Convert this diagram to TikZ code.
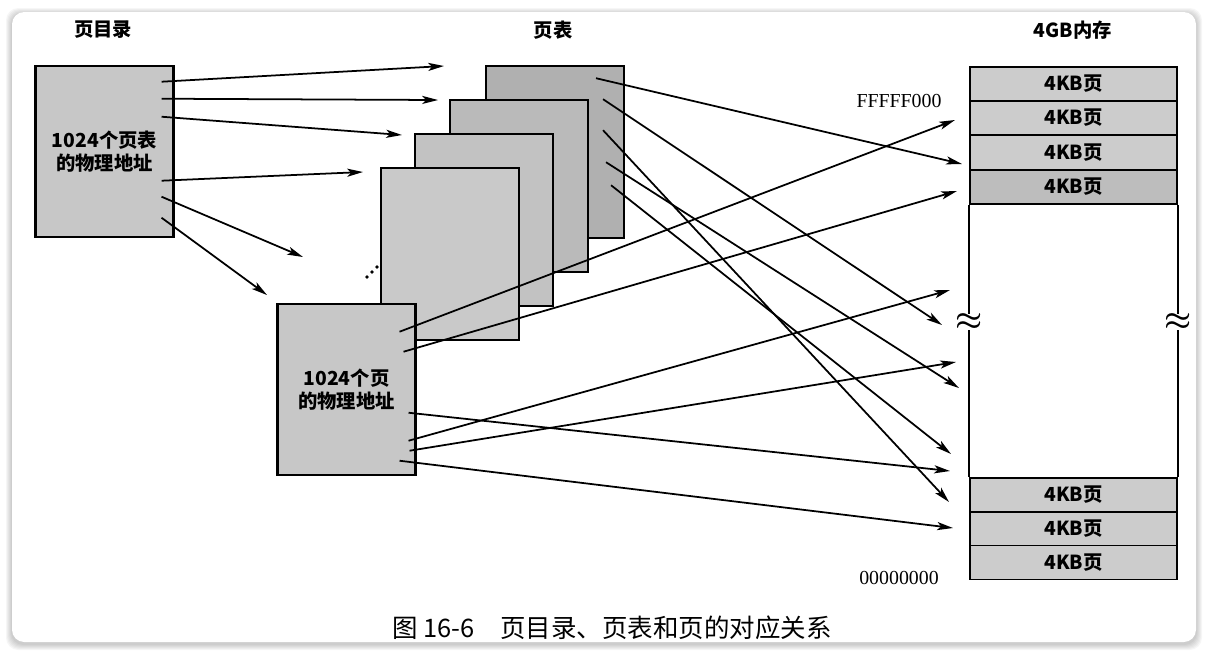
\documentclass[tikz,border=0pt]{standalone}
\usepackage{fontspec}
\setmainfont{Liberation Serif}
\newfontfamily\cjk{Noto Sans CJK SC}
\usetikzlibrary{calc, arrows.meta}
\definecolor{dirgray}{gray}{0.78}
\definecolor{tblgray1}{gray}{0.79}
\definecolor{tblgray2}{gray}{0.76}
\definecolor{tblgray3}{gray}{0.73}
\definecolor{tblgray4}{gray}{0.69}
\definecolor{pagegray}{gray}{0.80}
\definecolor{pagedark}{gray}{0.74}
\tikzstyle{tbl}=[draw, line width=1.2pt, minimum width=2.76cm, minimum height=3.43cm, inner sep=0pt, align=center, font=\cjk\bfseries\fontsize{11}{13}\selectfont]
\tikzstyle{pg}=[draw, line width=1pt, minimum width=4.14cm, minimum height=0.68cm, inner sep=0pt, font=\cjk\bfseries\fontsize{11}{13}\selectfont]
\tikzstyle{lbl}=[font=\cjk\bfseries\fontsize{11}{13}\selectfont]
\tikzstyle{addr}=[font=\fontsize{11.3}{13}\selectfont]
\tikzstyle{brk}=[fill=white, inner sep=0pt, font=\fontsize{18}{18}\selectfont\boldmath]

\begin{document}
\begin{tikzpicture}[x=0.02cm,y=-0.02cm,>={Stealth[length=9pt,width=4.6pt,inset=2.2pt]},line width=1pt]
  \useasboundingbox (0,0) rectangle (1208,654);
  % window frame
  \foreach \i in {1,...,6}
    \fill[black, opacity=0.035, rounded corners=7pt] ($(12,14)+(-\i,-\i)$) rectangle ($(1196,644)+(\i,\i)$);
  \fill[white, rounded corners=7pt] (12,12) rectangle (1196,642);

  % titles
  \node[lbl] (tdir) at (103,30) {页目录};
  \node[lbl] (ttbl) at (553,30) {页表};
  \node[lbl] (tmem) at (1073,30) {4GB内存};

  % page directory
  \node[tbl, fill=dirgray] (pdir) at (104.5,151.5) {1024个页表\\的物理地址};

  % page tables, back to front
  \node[tbl, fill=tblgray4] (pt4) at (555,152) {};
  \node[tbl, fill=tblgray3] (pt3) at (519,186) {};
  \node[tbl, fill=tblgray2] (pt2) at (484,220) {};
  \node[tbl, fill=tblgray1] (pt1) at (450,254) {};
  \foreach \x/\y in {367/277,372/272,377/267}
    \fill (\x,\y) circle (1.1pt);
  \node[tbl, fill=dirgray] (ptn) at (346.5,389.5) {1024个页\\的物理地址};

  % 4GB memory
  \foreach \n/\y/\c in {1/84/pagegray,2/118/pagegray,3/152.5/pagegray,4/187/pagedark,5/495/pagegray,6/529/pagegray,7/562.5/pagegray}
    \node[pg, fill=\c] (m\n) at (1073.5,\y) {4KB页};
  \draw[line width=1.1pt] (m4.south west) -- (m5.north west) node[pos=0.43, brk] (bl) {$\approx$};
  \draw[line width=1.1pt] (m4.south east) -- (m5.north east) node[pos=0.43, brk] (br) {$\approx$};
  \node[addr] (hi) at (899,101) {FFFFF000};
  \node[addr] (lo) at (899,578) {00000000};

  % directory -> page tables
  \foreach \i/\dy/\ex/\ey in {1/17/444/66, 2/34/438/100, 3/52/402/135, 4/116/363/172, 5/132/303/257, 6/153/267/295} {
    \coordinate (dt\i) at (\ex,\ey);
    \draw[->] ($(pdir.north east)+(-13,\dy)$) -- (dt\i);
  }
  % page table -> pages
  \foreach \i/\dx/\dy/\ex/\ey in {1/-29/13/962/164, 2/-22/34/942/325, 3/-22/65/949/502, 4/-19/97/959/388, 5/-14/120/951/454} {
    \coordinate (tp\i) at (\ex,\ey);
    \draw[->] ($(pt4.north east)+(\dx,\dy)$) -- (tp\i);
  }
  \foreach \i/\dx/\dy/\ex/\ey in {1/-17/29/955/120, 2/-13/49/957/191, 3/-8/110/950/471, 4/-8/138/950/290, 5/-7/148/956/362, 6/-17/158/953/528} {
    \coordinate (np\i) at (\ex,\ey);
    \draw[->] ($(ptn.north east)+(\dx,\dy)$) -- (np\i);
  }

  % caption
  \node[font=\cjk\fontsize{14.5}{16}\selectfont] (cap) at (612,628) {图 16-6\quad 页目录、页表和页的对应关系};
\end{tikzpicture}
\end{document}
